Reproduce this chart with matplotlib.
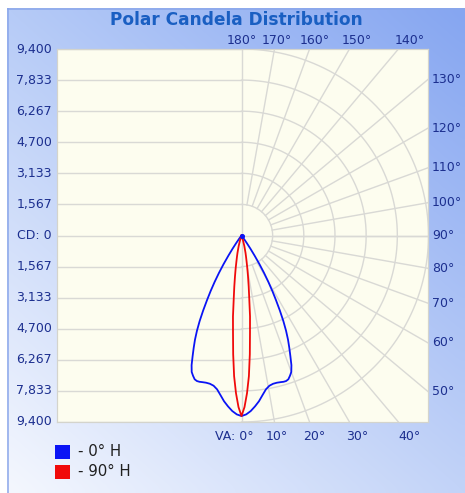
import numpy as np
import matplotlib
matplotlib.use("Agg")
import matplotlib.pyplot as plt
from matplotlib.patches import Rectangle

# ---------------- data ----------------
title = "Polar Candela Distribution"
cd_max = 9400
cd_tick_labels_up = ["9,400", "7,833", "6,267", "4,700", "3,133", "1,567"]
cd_tick_labels_down = ["1,567", "3,133", "4,700", "6,267", "7,833", "9,400"]
center_label = "CD: 0"
top_angles = [180, 170, 160, 150, 140]
right_angles = [130, 120, 110, 100, 90, 80, 70, 60, 50]
bottom_angles = [0, 10, 20, 30, 40]

# 0 deg H plane (blue)
va_h0 = [0, 1.5, 3, 4.5, 6, 7.5, 9, 10.5, 12, 13.5, 15, 16, 17, 18, 19, 20, 21,
         22, 23, 24, 25, 26, 27, 28, 29, 30, 31, 32, 33, 34, 35, 36.5, 38]
cd_h0 = [9100, 9020, 8860, 8640, 8400, 8110, 7850, 7700, 7640, 7630, 7650, 7670,
         7670, 7620, 7480, 7320, 7000, 6560, 6150, 5750, 5300, 4800, 4250, 3700,
         3200, 2700, 2200, 1700, 1200, 800, 450, 150, 0]
# 90 deg H plane (red)
va_h90 = [0, 1, 2, 3, 4, 5, 6, 7, 8, 9, 10, 11, 12, 13, 15, 17, 19]
cd_h90 = [9100, 8650, 7950, 7100, 6000, 4900, 4100, 3200, 2600, 2100, 1700, 1350,
          1100, 900, 550, 250, 0]

series_names = ["- 0° H", "- 90° H"]
series_colors = ["#0a14f5", "#f00a0a"]

# ---------------- figure ----------------
W, H = 465, 493
DPI = 72
fig = plt.figure(figsize=(W / DPI, H / DPI), dpi=DPI, facecolor="white")

# gradient background
bg = fig.add_axes([7 / W, 0, (W - 7) / W, (H - 8) / H])
bg.set_axis_off()
ny, nx = 60, 60
tl = np.array([0xb6, 0xcb, 0xf7]) / 255
tr = np.array([0x86, 0xa6, 0xf1]) / 255
bl = np.array([0xf4, 0xf7, 0xfe]) / 255
br = np.array([0xc2, 0xd3, 0xf8]) / 255
u = np.linspace(0, 1, nx)[None, :, None]
v = np.linspace(0, 1, ny)[:, None, None]
img = (1 - v) * ((1 - u) * tl + u * tr) + v * ((1 - u) * bl + u * br)
bg.imshow(img, aspect="auto", extent=[0, 1, 0, 1], origin="upper", interpolation="bicubic")
bg.set_xlim(0, 1)
bg.set_ylim(0, 1)
bg.plot([0.002, 0.002], [0, 1], color="#8aa6ea", lw=1.5)
bg.plot([0, 1], [0.998, 0.998], color="#8aa6ea", lw=1.5)

# plot axes
px_l, px_r, px_t, px_b = 57, 428, 49, 422
cx = 241.5
scale = cd_max / (236 - px_t)  # cd per pixel
ax = fig.add_axes([px_l / W, (H - px_b) / H, (px_r - px_l) / W, (px_b - px_t) / H])
ax.set_facecolor("#fdfdef")
xmin = -(cx - px_l) * scale
xmax = (px_r - cx) * scale
ax.set_xlim(xmin, xmax)
ax.set_ylim(-cd_max, cd_max)
ax.set_xticks([])
ax.set_yticks([])
for s in ax.spines.values():
    s.set_color("#d4d4cc")
    s.set_linewidth(1.2)

grid_c = "#d9d9d5"
grid_lw = 1.4
step = cd_max / 6
# horizontal lines on left half
for k in range(-6, 7):
    y = k * step
    if k == 0:
        ax.plot([xmin, xmax], [0, 0], color=grid_c, lw=grid_lw, zorder=1)
    else:
        ax.plot([xmin, 0], [y, y], color=grid_c, lw=grid_lw, zorder=1)
ax.plot([0, 0], [-cd_max, cd_max], color=grid_c, lw=grid_lw, zorder=1)
# semicircles on right half
th = np.radians(np.linspace(0, 180, 200))
for k in range(1, 7):
    r = k * step
    ax.plot(r * np.sin(th), -r * np.cos(th), color=grid_c, lw=grid_lw, zorder=1)
# radial lines
for a in range(10, 180, 10):
    ar = np.radians(a)
    rr = np.array([step, 40000])
    ax.plot(rr * np.sin(ar), -rr * np.cos(ar), color=grid_c, lw=grid_lw, zorder=1)


def polar_xy(va, cd):
    va = np.radians(np.asarray(va, float))
    cd = np.asarray(cd, float)
    x = cd * np.sin(va)
    y = -cd * np.cos(va)
    return np.concatenate([-x[::-1], x]), np.concatenate([y[::-1], y])


for va, cd, col in [(va_h0, cd_h0, series_colors[0]), (va_h90, cd_h90, series_colors[1])]:
    x, y = polar_xy(va, cd)
    ax.plot(x, y, color=col, lw=1.8, zorder=3, solid_joinstyle="round")
ax.plot([0], [0], marker="o", ms=4, color=series_colors[0], zorder=4)

# ---------------- labels ----------------
lab_c = "#1c2f8f"
fs = 12.5
labels_left = cd_tick_labels_up + [center_label] + cd_tick_labels_down
for i, lab in enumerate(labels_left):
    y = cd_max - i * step
    ax.annotate(lab, xy=(0, y), xycoords=("axes fraction", "data"), xytext=(-5, 0),
                textcoords="offset points", ha="right", va="center", color=lab_c, fontsize=fs)

lab_r = cd_max + 13 * scale
for a in top_angles:
    x = lab_r * np.tan(np.radians(180 - a))
    ax.annotate(f"{a}°", xy=(x, 1), xycoords=("data", "axes fraction"), xytext=(0, 8),
                textcoords="offset points", ha="center", va="center", color=lab_c, fontsize=fs)
for a in bottom_angles:
    x = lab_r * np.tan(np.radians(a))
    if a == 0:
        ax.annotate(f"VA: {a}°", xy=(x, 0), xycoords=("data", "axes fraction"), xytext=(12, -14),
                    textcoords="offset points", ha="right", va="center", color=lab_c, fontsize=fs)
    else:
        ax.annotate(f"{a}°", xy=(x, 0), xycoords=("data", "axes fraction"), xytext=(0, -14),
                    textcoords="offset points", ha="center", va="center", color=lab_c, fontsize=fs)
for a in right_angles:
    ar = np.radians(a)
    y = -xmax / np.tan(ar) if a != 90 else 0.0
    ax.annotate(f"{a}°", xy=(1, y), xycoords=("axes fraction", "data"), xytext=(4, 0),
                textcoords="offset points", ha="left", va="center", color=lab_c, fontsize=fs)

fig.text(236 / W, 1 - 20 / H, title, ha="center", va="center", fontsize=17,
         fontweight="bold", color="#1a5fc2")

# legend
for i, (name, col) in enumerate(zip(series_names, series_colors)):
    top = 445 + i * 20
    fig.patches.append(Rectangle((55 / W, 1 - (top + 14) / H), 15 / W, 14 / H,
                                 transform=fig.transFigure, facecolor=col, edgecolor="none"))
    fig.text(78 / W, 1 - (top + 7) / H, name, ha="left", va="center", fontsize=15, color="#202020")

fig.savefig("out.png", dpi=DPI, facecolor="white")
